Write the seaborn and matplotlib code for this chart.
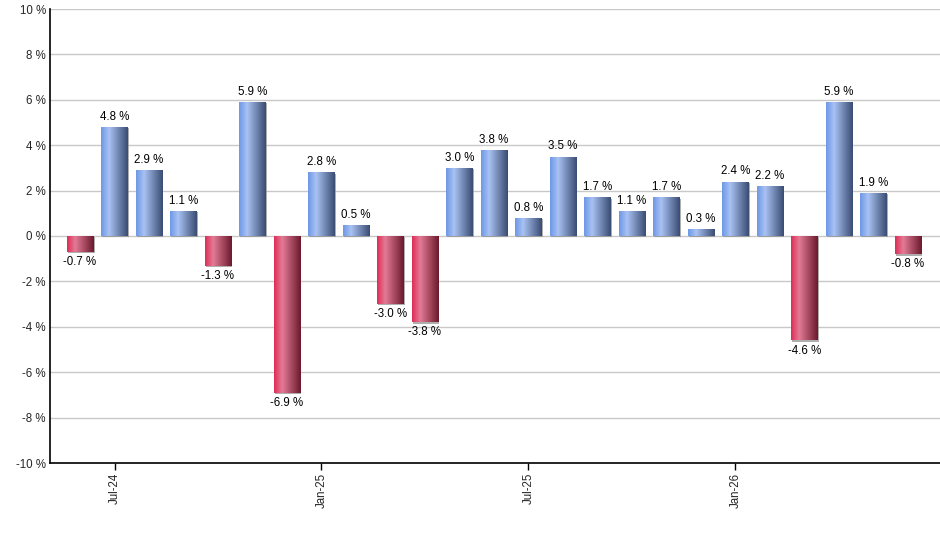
import matplotlib
matplotlib.use('Agg')
import matplotlib.pyplot as plt
from matplotlib.colors import LinearSegmentedColormap
import numpy as np
import pandas as pd
import seaborn as sns

# monthly returns, Jun-24 .. Jun-26
months = ['Jun-24', 'Jul-24', 'Aug-24', 'Sep-24', 'Oct-24', 'Nov-24', 'Dec-24',
          'Jan-25', 'Feb-25', 'Mar-25', 'Apr-25', 'May-25', 'Jun-25',
          'Jul-25', 'Aug-25', 'Sep-25', 'Oct-25', 'Nov-25', 'Dec-25',
          'Jan-26', 'Feb-26', 'Mar-26', 'Apr-26', 'May-26', 'Jun-26']
returns = [-0.7, 4.8, 2.9, 1.1, -1.3, 5.9, -6.9,
           2.8, 0.5, -3.0, -3.8, 3.0, 3.8,
           0.8, 3.5, 1.7, 1.1, 1.7, 0.3,
           2.4, 2.2, -4.6, 5.9, 1.9, -0.8]
tick_months = ['Jul-24', 'Jan-25', 'Jul-25', 'Jan-26']

df = pd.DataFrame({'month': months, 'ret': returns})

sns.set_style('white')
plt.rcParams['font.family'] = ['Liberation Sans', 'DejaVu Sans']

blue_cm = LinearSegmentedColormap.from_list(
    'b', [(0, '#6e98e6'), (0.3, '#a9c2f3'), (1, '#3a4d73')])
red_cm = LinearSegmentedColormap.from_list(
    'r', [(0, '#de2e58'), (0.3, '#e47b96'), (1, '#6c1a2d')])

fig = plt.figure(figsize=(9.4, 5.5), dpi=100)
ax = fig.add_axes([50 / 940, 1 - 463 / 550, 890 / 940, 454 / 550])

sns.barplot(data=df, x='month', y='ret', order=months, width=0.77,
            color='white', saturation=1, linewidth=0, ax=ax, zorder=3)

grad = np.linspace(0, 1, 64).reshape(1, -1)
for p, v in zip(ax.patches, returns):
    x0, w = p.get_x(), p.get_width()
    y0, h = p.get_y(), p.get_height()
    lo, hi = min(y0, y0 + h), max(y0, y0 + h)
    # thin grey shadow on the right / bottom
    ax.add_patch(plt.Rectangle((x0 + 0.035, lo - 0.06), w, hi - lo,
                               color='#8c8c8c', alpha=0.7, zorder=2, lw=0))
    im = ax.imshow(grad, cmap=blue_cm if v >= 0 else red_cm, aspect='auto',
                   extent=(x0, x0 + w, lo, hi), zorder=4,
                   interpolation='bilinear')
    im.set_clip_path(p)
    xc = x0 + w / 2
    if v >= 0:
        ax.text(xc, v + 0.18, f'{v:.1f} %', ha='center', va='bottom',
                fontsize=8.3, color='black', zorder=5)
    else:
        ax.text(xc, v - 0.18, f'{v:.1f} %', ha='center', va='top',
                fontsize=8.3, color='black', zorder=5)

ax.set_xlim(-0.87, 24.93)
ax.set_ylim(-10, 10)
ax.set_yticks(np.arange(-10, 11, 2))
ax.set_yticklabels([f'{t} %' for t in range(-10, 11, 2)], fontsize=8.3)
ax.yaxis.grid(True, color='#c8c8c8', lw=1, zorder=0)
ax.set_axisbelow(True)

ax.set_xticks([months.index(m) for m in tick_months])
ax.set_xticklabels(tick_months, rotation=90, fontsize=8.3)
ax.tick_params(axis='x', direction='out', length=5, width=1, color='black',
               bottom=True, pad=2)
ax.tick_params(axis='y', length=0, pad=3)
ax.set_xlabel('')
ax.set_ylabel('')

for s in ['top', 'right']:
    ax.spines[s].set_visible(False)
for s in ['left', 'bottom']:
    ax.spines[s].set_color('black')
    ax.spines[s].set_linewidth(1.2)
    ax.spines[s].set_zorder(6)

fig.savefig('out.png', dpi=100)
